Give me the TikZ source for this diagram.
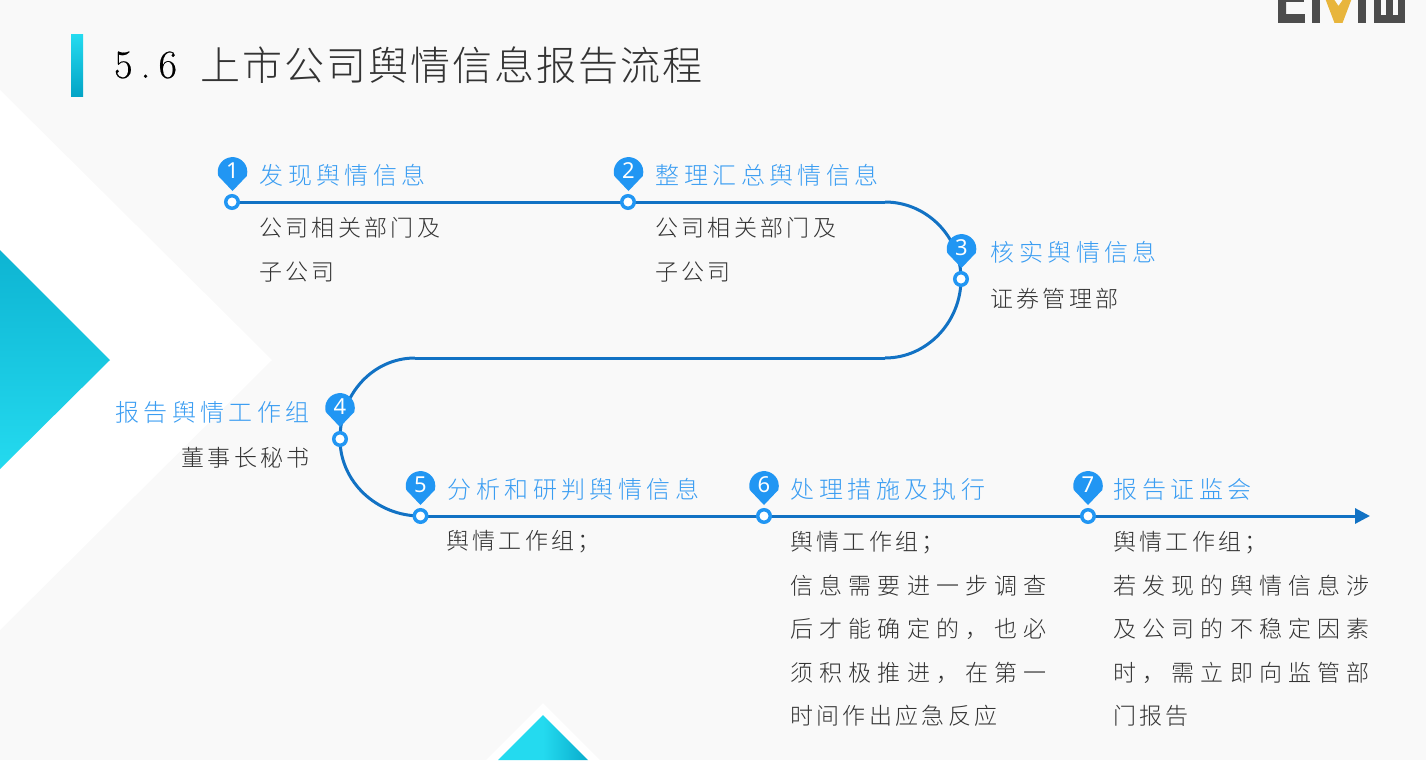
\documentclass[tikz,border=0pt]{standalone}
\usepackage{fontspec}
\setmainfont{Noto Sans}
\IfFontExistsTF{Noto Sans CJK SC Light}{\def\cjkname{Noto Sans CJK SC Light}}{\def\cjkname{Noto Sans CJK SC}}
\newfontfamily\cjktitle[LetterSpace=5]{\cjkname}
\newfontfamily\cjkhead[LetterSpace=18.5]{\cjkname}
\newfontfamily\cjkbody[LetterSpace=14.5]{\cjkname}
\newfontfamily\cjkbodyw[LetterSpace=27]{\cjkname}
\newfontfamily\pinfont{Noto Sans}
\newfontfamily\numfont[LetterSpace=20,FakeBold=0.4]{Latin Modern Roman}
\usetikzlibrary{arrows.meta,calc}
\definecolor{bgc}{HTML}{F9F9F9}
\definecolor{linec}{HTML}{1272C4}
\definecolor{pinc}{HTML}{2196F3}
\definecolor{headc}{HTML}{3A9DF2}
\definecolor{bodyc}{HTML}{333333}
\definecolor{tealA}{HTML}{24DAEF}
\definecolor{tealB}{HTML}{04A4C6}
\definecolor{logoc}{HTML}{4D4D4D}
\definecolor{goldc}{HTML}{E8B53C}
\tikzset{
  ringn/.style={circle,draw=pinc,line width=3.5pt,fill=white,minimum size=12.5pt,inner sep=0pt},
  pinnum/.style={text=white,font=\pinfont\fontsize{22}{22}\selectfont,inner sep=0pt},
  headn/.style={anchor=west,inner sep=0pt,text=headc,font=\cjkhead\fontsize{24}{24}\selectfont},
  bodyn/.style={anchor=north west,inner sep=0pt,text=bodyc,align=left,font=\cjkbody\fontsize{23}{43.4}\selectfont},
  bodyw/.style={bodyn,font=\cjkbodyw\fontsize{23}{43.4}\selectfont},
  flow/.style={draw=linec,line width=3pt},
}
\begin{document}
\begin{tikzpicture}[x=1pt,y=-1pt]
\useasboundingbox (0,0) rectangle (1426,760);
\fill[bgc] (0,0) rectangle (1426,760);
% background triangles
\fill[white] (0,90) -- (272,360) -- (0,630) -- cycle;
\shade[top color=tealB!70!tealA,bottom color=tealA] (0,250) -- (110,360) -- (0,469) -- cycle;
\fill[white] (543,703) -- (600,760) -- (486,760) -- cycle;
\shade[left color=tealA,right color=tealB!85!tealA,middle color=tealA] (543,715) -- (588,760) -- (498,760) -- cycle;
% title
\shade[top color=tealA,bottom color=tealB] (71,35) rectangle (83,96);
\node[anchor=west,inner sep=0pt,text=black,font=\numfont\fontsize{40}{40}\selectfont] (ttnum) at (114,65) {5.6};
\node[anchor=west,inner sep=0pt,text=bodyc,font=\cjktitle\fontsize{40}{40}\selectfont] (tt) at (200,65) {上市公司舆情信息报告流程};
% logo
\begin{scope}
\clip (0,0) rectangle (1426,22.5);
\fill[logoc,rounded corners=2pt] (1278,-6) rectangle (1286,26);
\fill[logoc] (1278,14) rectangle (1305,26);
\fill[logoc] (1278,-4) rectangle (1304,2.5);
\fill[logoc] (1312,-2) rectangle (1320,26);
\fill[goldc] (1325,-2) -- (1333,-2) -- (1338.5,6) -- (1344,-2) -- (1352,-2) -- (1342.5,23) -- (1334.5,23) -- cycle;
\fill[logoc] (1358,-2) rectangle (1366,26);
\fill[logoc] (1374,-2) rectangle (1381,26);
\fill[logoc] (1374,15) rectangle (1405,26);
\fill[logoc] (1386,-2) rectangle (1393,26);
\fill[logoc] (1398,-2) rectangle (1405,26);
\end{scope}
% rings and curve points
\coordinate (c1) at (885,202);
\coordinate (c2) at (885,358);
\coordinate (c3) at (415,358);
\coordinate (endp) at (1370,516);
\path node (a1) at (232,202) {} node (a2) at (628,202) {} node (a3) at (961,279) {} node (a4) at (340,439) {}
      node (a5) at (420.5,516) {} node (a6) at (764,516) {} node (a7) at (1088,516) {};
\draw[flow] (a1.center) -- (a2.center) -- (c1);
\draw[flow] (c1) .. controls (927,202) and (961,237) .. (a3.center);
\draw[flow] (a3.center) .. controls (961,322) and (927,358) .. (c2);
\draw[flow] (c2) -- (c3);
\draw[flow] (c3) .. controls (373,358) and (340,394) .. (a4.center);
\draw[flow] (a4.center) .. controls (340,482) and (377,516) .. (a5.center);
\draw[flow] (a5.center) -- (a6.center);
\draw[flow] (a6.center) -- (a7.center);
\draw[flow,-{Triangle[length=15pt,width=15pt]}] (a7.center) -- (endp);
\foreach \i in {1,...,7}
  \node[ringn] (r\i) at (a\i.center) {};
% pins
\foreach \i/\x/\y in {1/232.5/172,2/628.5/172,3/961.5/249,4/340/408,5/420.5/486,6/764/486,7/1088/486}{
  \fill[pinc] (\x-14.2,\y+4) arc[start angle=164,end angle=376,radius=14.8] -- (\x,\y+19) -- cycle;
  \node[pinnum] (p\i) at (\x,\y-1) {\i};
}
% headings
\node[headn] (h1) at (259.5,175.7) {发现舆情信息};
\node[headn] (h2) at (655.5,175.7) {整理汇总舆情信息};
\node[headn] (h3) at (990.5,252.7) {核实舆情信息};
\node[headn,anchor=east] (h4) at (310,412.7) {报告舆情工作组};
\node[headn] (h5) at (447.5,489.7) {分析和研判舆情信息};
\node[headn] (h6) at (790.5,489.7) {处理措施及执行};
\node[headn] (h7) at (1113.5,489.7) {报告证监会};
% bodies
\node[bodyn] (b1) at (259,217.5) {公司相关部门及\\子公司};
\node[bodyn] (b2) at (655,217.5) {公司相关部门及\\子公司};
\node[bodyn] (b3) at (990,288) {证券管理部};
\node[bodyn,anchor=north east] (b4) at (310,447.5) {董事长秘书};
\node[bodyn] (b5) at (446,530.5) {舆情工作组；};
\node[bodyw] (b6) at (790,531.5) {{\cjkbody 舆情工作组；}\\信息需要进一步调查\\后才能确定的，也必\\须积极推进，在第一\\{\cjkbody 时间作出应急反应}};
\node[bodyw] (b7) at (1113,531.5) {{\cjkbody 舆情工作组；}\\若发现的舆情信息涉\\及公司的不稳定因素\\时，需立即向监管部\\{\cjkbody 门报告}};
\end{tikzpicture}
\end{document}
